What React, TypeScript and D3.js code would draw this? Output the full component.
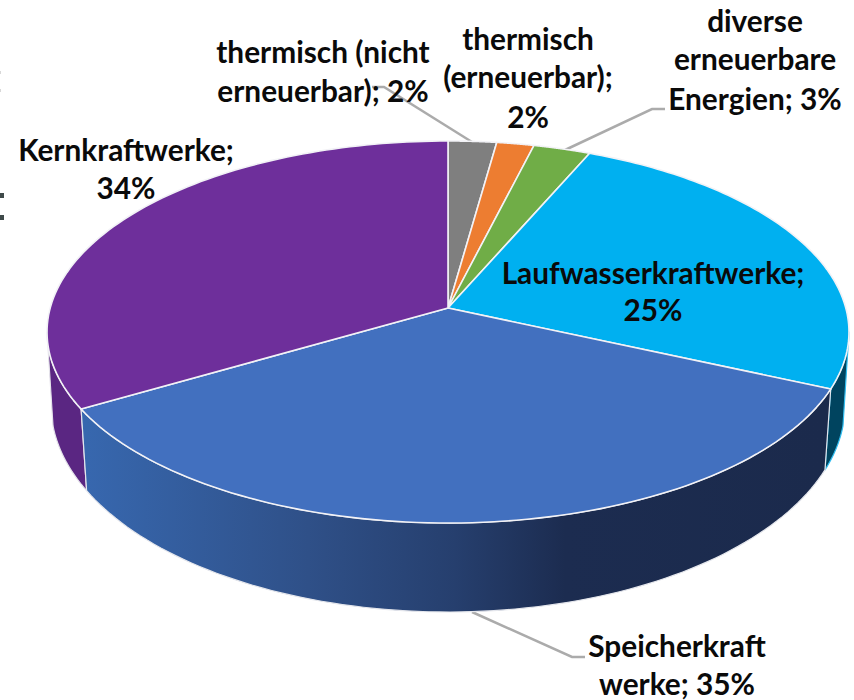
import { useRef, useEffect } from 'react';
import * as d3 from 'd3';

const CATEGORIES = [
  'thermisch (nicht erneuerbar)',
  'thermisch (erneuerbar)',
  'diverse erneuerbare Energien',
  'Laufwasserkraftwerke',
  'Speicherkraftwerke',
  'Kernkraftwerke'
];
const VALUES = [2.2, 1.7, 2.6, 25.2, 34.9, 33.4];
const TOP_COLORS = ['#7F7F7F', '#ED7D31', '#70AD47', '#00B0F0', '#4270BF', '#6E2F9B'];
const LABEL_LINES = [
  ['thermisch (nicht', 'erneuerbar); 2%'],
  ['thermisch', '(erneuerbar);', '2%'],
  ['diverse', 'erneuerbare', 'Energien; 3%'],
  ['Laufwasserkraftwerke;', '25%'],
  ['Speicherkraft', 'werke; 35%'],
  ['Kernkraftwerke;', '34%']
];
const LABEL_X = [323, 528, 755, 653, 677, 126];
const LABEL_Y = [
  [63, 102],
  [50, 88, 128],
  [32, 70, 110],
  [284, 321],
  [657, 695],
  [161, 199]
];
const LEADERS: [number, number][][] = [
  [[472, 142], [384, 87], [372, 87]],
  [[565, 150], [652, 109], [665, 109]],
  [[472, 612], [572, 657], [585, 657]]
];
// cropped remains of another glyph at the left border of the picture
const EDGE_MARKS = [
  { y: 193, w: 4, h: 5, fill: '#3F4A4A' },
  { y: 215, w: 4, h: 5, fill: '#3F4A4A' },
  { y: 71, w: 1, h: 3, fill: '#D8D8D8' },
  { y: 89, w: 1, h: 3, fill: '#D8D8D8' }
];

// perspective pie: the apex sits above the centre of the outline ellipse
const APEX_X = 448;
const APEX_Y = 308;
const K = 0.1257;
const A = 188;
const B = 397.8;
const BOTTOM_CY = 405;
const BOTTOM_RX = 397;
const BOTTOM_RY = 207;
const STEPS = 90;
// angles where the top rim reaches its left and right extremes
const RIGHT_EXT = Math.acos(-K);
const LEFT_EXT = 2 * Math.PI - RIGHT_EXT;

function projectTop(t: number): [number, number] {
  const x = Math.sin(t);
  const y = -Math.cos(t);
  const w = 1 - K * y;
  return [APEX_X + (B * x) / w, APEX_Y + (A * y) / w];
}

function projectBottom(t: number): [number, number] {
  const dx = (projectTop(t)[0] - APEX_X) * 0.985;
  const u = Math.min(1, Math.abs(dx) / BOTTOM_RX);
  return [APEX_X + dx, BOTTOM_CY + BOTTOM_RY * Math.sqrt(1 - u * u)];
}

function sample(a0: number, a1: number): number[] {
  return d3.range(STEPS + 1).map((i) => a0 + ((a1 - a0) * i) / STEPS);
}

export default function App() {
  const svgRef = useRef<SVGSVGElement>(null);

  useEffect(() => {
    const svg = d3.select(svgRef.current);
    svg.selectAll('*').remove();

    const line = d3.line();
    const slices = d3.pie<number>().sort(null)(VALUES);

    // Side gradient of the big blue slice
    const grad = svg.append('defs').append('linearGradient')
      .attr('id', 'speicherSide')
      .attr('gradientUnits', 'userSpaceOnUse')
      .attr('x1', 88).attr('x2', 822).attr('y1', 0).attr('y2', 0);
    [[0, '#3767AE'], [0.3, '#2F5088'], [0.5, '#263F6E'], [0.65, '#1C2C50'], [1, '#1B2A4C']].forEach((s) => {
      grad.append('stop').attr('offset', s[0]).attr('stop-color', s[1]);
    });

    const sideFill: Record<number, string> = { 3: '#00445F', 4: 'url(#speicherSide)', 5: '#5A2682' };
    const sideStroke: Record<number, string> = { 3: '#2FBDF0', 4: '#E4E6EC', 5: '#E4E2EA' };

    EDGE_MARKS.forEach((m) => {
      svg.append('rect').attr('x', 0).attr('y', m.y).attr('width', m.w).attr('height', m.h).attr('fill', m.fill);
    });

    // Leader lines sit behind everything else
    LEADERS.forEach((pts) => {
      svg.append('path')
        .attr('d', line(pts))
        .attr('fill', 'none')
        .attr('stroke', '#ABABAB')
        .attr('stroke-width', 2.5);
    });

    // Sides, only the part of each slice facing the viewer
    [3, 5, 4].forEach((i) => {
      const angles = sample(Math.max(slices[i].startAngle, RIGHT_EXT), Math.min(slices[i].endAngle, LEFT_EXT));
      const outline = angles.map(projectTop).concat(angles.slice().reverse().map(projectBottom));
      svg.append('path')
        .attr('d', line(outline) + 'Z')
        .attr('fill', sideFill[i])
        .attr('stroke', sideStroke[i])
        .attr('stroke-width', 1.2)
        .attr('stroke-linejoin', 'round');
    });

    // Top face
    slices.forEach((s, i) => {
      const rim = sample(s.startAngle, s.endAngle).map(projectTop);
      const pts: [number, number][] = [[APEX_X, APEX_Y] as [number, number]].concat(rim);
      svg.append('path')
        .attr('d', line(pts) + 'Z')
        .attr('fill', TOP_COLORS[i])
        .attr('stroke', '#F2F2F6')
        .attr('stroke-width', 1.6)
        .attr('stroke-linejoin', 'round');
    });

    // Labels
    LABEL_LINES.forEach((lines, i) => {
      lines.forEach((txt, j) => {
        svg.append('text')
          .attr('x', LABEL_X[i])
          .attr('y', LABEL_Y[i][j])
          .attr('text-anchor', 'middle')
          .attr('font-family', 'Lato, "Open Sans", sans-serif')
          .attr('font-size', 29.8)
          .attr('font-weight', 700)
          .attr('fill', '#0A0A0A')
          .text(txt);
      });
    });
  }, []);

  return (
    <svg
      ref={svgRef}
      width={854}
      height={700}
      style={{ position: 'absolute', left: 0, top: 0, background: '#fff' }}
      aria-label={'Stromproduktion: ' + CATEGORIES.join(', ')}
    />
  );
}
